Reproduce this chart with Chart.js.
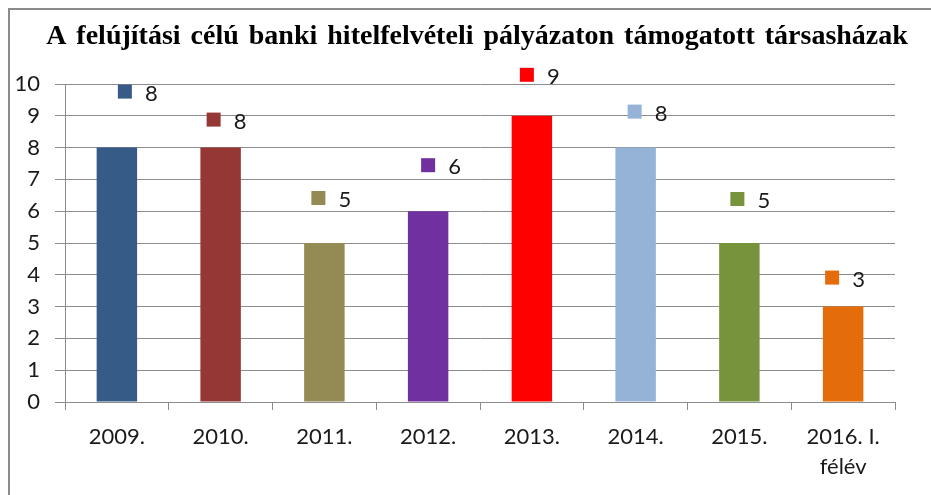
<!DOCTYPE html>
<html>
<head>
<meta charset="utf-8">
<script src="https://cdn.jsdelivr.net/npm/chart.js@4.4.1/dist/chart.umd.min.js"></script>
<style>
  html, body { margin: 0; padding: 0; background: #fff; }
  #wrap { width: 931px; height: 495px; }
</style>
</head>
<body>
<div id="wrap"><canvas id="myChart" width="931" height="495"></canvas></div>
<script>
// adatok
const title = "A felújítási célú banki hitelfelvételi pályázaton támogatott társasházak";
const categories = ["2009.", "2010.", "2011.", "2012.", "2013.", "2014.", "2015.", ["2016. I.", "félév"]];
const values = [8, 8, 5, 6, 9, 8, 5, 3];
const yTicks = [0, 1, 2, 3, 4, 5, 6, 7, 8, 9, 10];

// stilus
const barColors = ["#365b87", "#953735", "#948a54", "#7030a0", "#ff0000", "#95b3d7", "#77933c", "#e46c0a"];
// cimke eltolasa (px) az oszlop tetejehez kepest
const labelDx = [1, -14, -13, -7, -12, -8, -9, -18];
const labelDy = [-56, -28, -45, -46, -41, -36, -44, -29];

const AXIS_FONT = "Lato, 'Open Sans', sans-serif";

// keret + feher hatter + cim
const frame = {
  id: "frame",
  beforeDraw(chart) {
    const c = chart.ctx;
    c.save();
    c.fillStyle = "#fff";
    c.fillRect(0, 0, chart.width, chart.height);
    c.strokeStyle = "#8a8a8a";
    c.lineWidth = 2;
    c.beginPath();
    c.moveTo(9, chart.height);
    c.lineTo(9, 9);
    c.lineTo(chart.width, 9);
    c.stroke();

    // cim - kezzel kozepre igazitva (477px)
    c.font = "bold 28px 'Liberation Serif', 'Times New Roman', serif";
    if ("wordSpacing" in c) c.wordSpacing = "3px";
    c.fillStyle = "#000";
    c.textAlign = "center";
    c.textBaseline = "middle";
    c.fillText(title, 477, 37);
    c.restore();
  }
};

// adatcimkek: szines negyzet + ertek
const dataLabels = {
  id: "dataLabels",
  afterDatasetsDraw(chart) {
    const c = chart.ctx;
    const meta = chart.getDatasetMeta(0);
    c.save();
    c.font = "22px " + AXIS_FONT;
    c.textBaseline = "middle";
    c.textAlign = "left";
    meta.data.forEach((bar, i) => {
      const x = bar.x + labelDx[i];
      const y = bar.y + labelDy[i];
      c.fillStyle = barColors[i];
      c.fillRect(x, y - 7, 14, 14);
      c.fillStyle = "#1a1a1a";
      c.fillText(String(values[i]), x + 27, y + 2);
    });
    c.restore();
  }
};

const ctx = document.getElementById("myChart").getContext("2d");
const chart = new Chart(ctx, {
  type: "bar",
  data: {
    labels: categories,
    datasets: [
      {
        data: values,
        backgroundColor: barColors,
        borderWidth: 0,
        categoryPercentage: 1,
        barPercentage: 0.39
      }
    ]
  },
  plugins: [frame, dataLabels],
  options: {
    responsive: false,
    animation: false,
    layout: { padding: { top: 84, left: 0, right: 36, bottom: 0 } },
    plugins: {
      legend: { display: false },
      tooltip: { enabled: false },
      title: { display: false }
    },
    scales: {
      x: {
        grid: {
          offset: true,
          drawOnChartArea: false,
          drawTicks: true,
          tickLength: 8,
          color: "#8c8c8c"
        },
        border: { display: true, color: "#8c8c8c" },
        ticks: {
          color: "#1a1a1a",
          padding: 12,
          maxRotation: 0,
          autoSkip: false,
          font: { family: AXIS_FONT, size: 22, lineHeight: 1.35 }
        },
        afterFit(scale) { scale.height = 93; }
      },
      y: {
        min: 0,
        max: 10,
        afterBuildTicks(scale) { scale.ticks = yTicks.map(v => ({ value: v })); },
        grid: { color: "#8c8c8c", tickLength: 10 },
        border: { display: true, color: "#8c8c8c" },
        ticks: {
          color: "#1a1a1a",
          padding: 15,
          font: { family: AXIS_FONT, size: 22 }
        },
        afterFit(scale) { scale.width = 65; }
      }
    }
  }
});
</script>
</body>
</html>
